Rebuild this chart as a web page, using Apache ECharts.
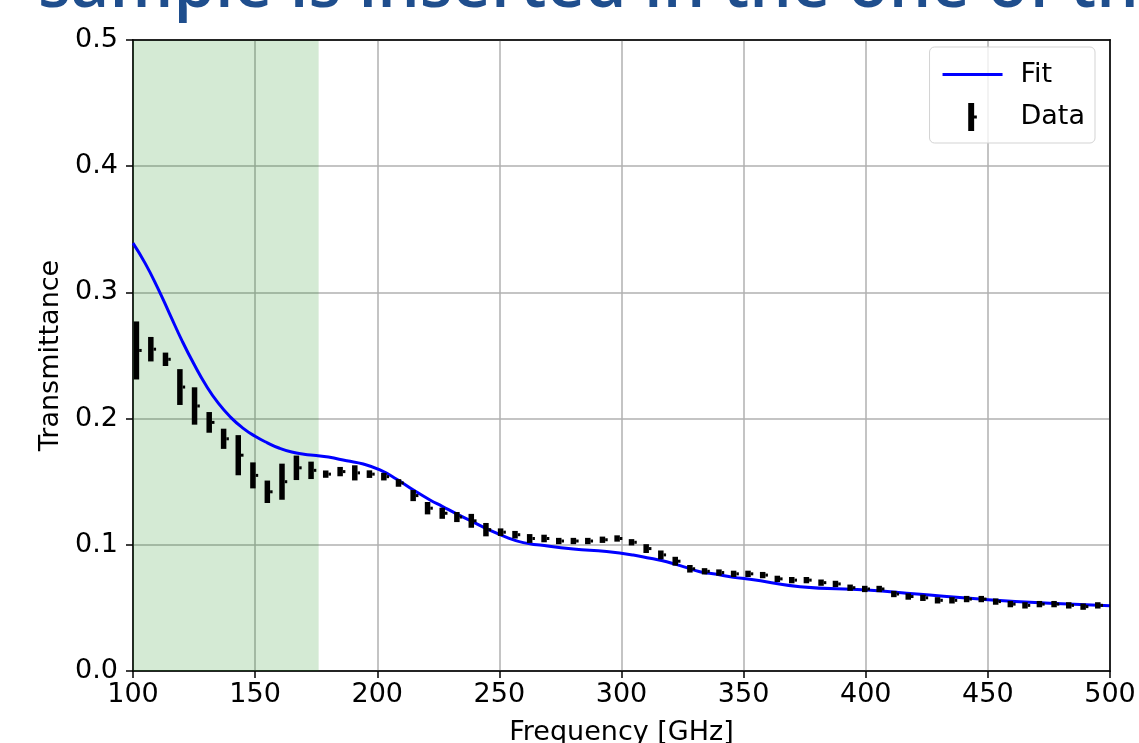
<!DOCTYPE html>
<html>
<head>
<meta charset="utf-8">
<script src="https://cdn.jsdelivr.net/npm/echarts@6/dist/echarts.min.js"></script>
<style>
  html, body { margin: 0; padding: 0; background: #ffffff; }
  #chart { width: 1139px; height: 743px; }
</style>
</head>
<body>
<div id="chart"></div>
<script>
// Measured transmittance with half-length of the error bar
const freqGHz = [
  101.4, 107.3, 113.3, 119.2, 125.2, 131.2, 137.1, 143.1, 149.1, 155.0,
  161.0, 166.9, 172.9, 178.9, 184.8, 190.8, 196.8, 202.7, 208.7, 214.7,
  220.6, 226.6, 232.6, 238.5, 244.5, 250.5, 256.4, 262.4, 268.3, 274.3,
  280.3, 286.2, 292.2, 298.2, 304.1, 310.1, 316.1, 322.0, 328.0, 334.0,
  339.9, 345.9, 351.8, 357.8, 363.8, 369.7, 375.7, 381.7, 387.6, 393.6,
  399.6, 405.5, 411.5, 417.4, 423.4, 429.4, 435.3, 441.3, 447.3, 453.2,
  459.2, 465.2, 471.1, 477.1, 483.1, 489.0, 495.0
];
const transmittance = [
  0.254, 0.255, 0.247, 0.225, 0.210, 0.197, 0.184, 0.171, 0.155, 0.142,
  0.150, 0.161, 0.159, 0.156, 0.158, 0.157, 0.156, 0.154, 0.149, 0.139,
  0.129, 0.125, 0.122, 0.119, 0.112, 0.110, 0.108, 0.105, 0.105, 0.103,
  0.103, 0.103, 0.104, 0.105, 0.102, 0.097, 0.092, 0.087, 0.081, 0.079,
  0.078, 0.077, 0.077, 0.076, 0.073, 0.072, 0.072, 0.070, 0.069, 0.066,
  0.065, 0.065, 0.061, 0.059, 0.058, 0.056, 0.056, 0.057, 0.057, 0.055,
  0.053, 0.052, 0.053, 0.053, 0.052, 0.051, 0.052
];
const errHalf = [
  0.0230, 0.0097, 0.0053, 0.0142, 0.0148, 0.0082, 0.0080, 0.0159, 0.0103, 0.0089,
  0.0143, 0.0097, 0.0069, 0.0029, 0.0037, 0.0060, 0.0030, 0.0030, 0.0030, 0.0044,
  0.0049, 0.0044, 0.0040, 0.0055, 0.0053, 0.0030, 0.0030, 0.0035, 0.0030, 0.0025,
  0.0025, 0.0025, 0.0025, 0.0025, 0.0025, 0.0035, 0.0035, 0.0035, 0.0030, 0.0025,
  0.0025, 0.0025, 0.0025, 0.0025, 0.0025, 0.0025, 0.0025, 0.0025, 0.0025, 0.0025,
  0.0025, 0.0025, 0.0025, 0.0025, 0.0025, 0.0025, 0.0025, 0.0025, 0.0025, 0.0025,
  0.0025, 0.0025, 0.0025, 0.0025, 0.0025, 0.0025, 0.0025
];

// Model fit curve
const fitFreq = [
  100, 105, 110, 115, 120, 125, 130, 135, 140, 145,
  150, 155, 160, 165, 170, 175, 180, 187.5, 194.3, 201.1,
  208.0, 214.8, 221.6, 226.6, 232.5, 239.3, 246.2, 253.0, 259.8, 266.6,
  280.3, 293.9, 304.8, 311.7, 318.5, 325.3, 332.1, 339.0, 345.8, 352.6,
  373.1, 400.4, 420.9, 448.1, 475.4, 500
];
const fitValue = [
  0.339, 0.323, 0.304, 0.283, 0.262, 0.243, 0.226, 0.212, 0.201, 0.1925,
  0.1860, 0.1808, 0.1765, 0.1735, 0.1718, 0.1708, 0.1695, 0.1666, 0.1640, 0.1593,
  0.1519, 0.1434, 0.1355, 0.1305, 0.1245, 0.1180, 0.1115, 0.1059, 0.1017, 0.0998,
  0.0967, 0.0946, 0.0919, 0.0893, 0.0866, 0.0827, 0.0787, 0.0766, 0.0742, 0.0727,
  0.0668, 0.0642, 0.0610, 0.0568, 0.0536, 0.0517
];

// Highlighted frequency band
const bandGHz = [100, 176];

const headingText = 'sample is inserted in the one of the';

const AXIS_FONT = '"DejaVu Sans", sans-serif';
const FS = 27;

const chart = echarts.init(document.getElementById('chart'), null, { renderer: 'canvas' });

const pointData = freqGHz.map((f, i) => [f, transmittance[i], errHalf[i]]);
const fitData = fitFreq.map((f, i) => [f, fitValue[i]]);

function renderErrorBar(params, api) {
  const x = api.value(0), y = api.value(1), e = api.value(2);
  const c = api.coord([x, y]);
  const top = api.coord([x, y + e]);
  const bot = api.coord([x, y - e]);
  let y0 = top[1];
  let h = bot[1] - top[1];
  const minH = 5.5;
  if (h < minH) { y0 = c[1] - minH / 2; h = minH; }
  return {
    type: 'group',
    children: [
      { type: 'rect', shape: { x: c[0] - 2.75, y: y0, width: 5.5, height: h }, style: { fill: '#000' } },
      { type: 'rect', shape: { x: c[0] + 2.75, y: c[1] - 1.5, width: 2.5, height: 3 }, style: { fill: '#000' } }
    ]
  };
}

// Plain black frame along the top and right edges of the plot
const frameAxis = {
  show: true, type: 'value',
  axisLine: { show: true, onZero: false, lineStyle: { color: '#000', width: 1.5 } },
  axisTick: { show: false }, axisLabel: { show: false }, splitLine: { show: false },
  z: 5
};

const option = {
  animation: false,
  backgroundColor: '#ffffff',
  grid: {
    left: 133, right: 29, top: 40, bottom: 72,
    outerBoundsMode: 'none', containLabel: false,
    show: true, borderColor: '#000', borderWidth: 1.5, backgroundColor: 'transparent'
  },
  graphic: [
    {
      type: 'text', left: 38, top: -46, z: 10,
      style: { text: headingText, font: '600 67px "Open Sans", sans-serif', fill: '#1F4E8D' }
    }
  ],
  legend: {
    orient: 'vertical', right: 44, top: 47,
    itemWidth: 60, itemHeight: 28, itemGap: 15,
    padding: [14, 10, 12, 13],
    backgroundColor: 'rgba(255,255,255,0.8)',
    borderColor: '#d3d3d3', borderWidth: 1, borderRadius: 5,
    textStyle: { fontFamily: AXIS_FONT, fontSize: FS, color: '#000', padding: [0, 0, 0, 13] },
    data: [
      { name: 'Fit', icon: 'path://M0,0 h60 v3 h-60 z' },
      { name: 'Data', icon: 'path://M0,0 h5.5 v26 h-5.5 z M5.5,11.5 h2.5 v3 h-2.5 z' }
    ]
  },
  xAxis: [
    {
      type: 'value', min: 100, max: 500, interval: 50,
      name: 'Frequency [GHz]', nameLocation: 'middle', nameGap: 48,
      nameTextStyle: { fontFamily: AXIS_FONT, fontSize: FS, color: '#000' },
      axisLine: { show: true, onZero: false, lineStyle: { color: '#000', width: 1.5 } },
      axisTick: { show: true, inside: false, length: 7, lineStyle: { color: '#000', width: 1.5 } },
      axisLabel: { fontFamily: AXIS_FONT, fontSize: FS, color: '#000', margin: 10 },
      splitLine: { show: true, lineStyle: { color: '#b0b0b0', width: 1.5 } }
    },
    Object.assign({ position: 'top', min: 100, max: 500 }, frameAxis)
  ],
  yAxis: [
    {
      type: 'value', min: 0, max: 0.5, interval: 0.1,
      name: 'Transmittance', nameLocation: 'middle', nameGap: 69,
      nameTextStyle: { fontFamily: AXIS_FONT, fontSize: FS, color: '#000' },
      axisLine: { show: true, onZero: false, lineStyle: { color: '#000', width: 1.5 } },
      axisTick: { show: true, inside: false, length: 7, lineStyle: { color: '#000', width: 1.5 } },
      axisLabel: { fontFamily: AXIS_FONT, fontSize: FS, color: '#000', margin: 15,
        formatter: v => v.toFixed(1) },
      splitLine: { show: true, lineStyle: { color: '#b0b0b0', width: 1.5 } }
    },
    Object.assign({ position: 'right', min: 0, max: 0.5 }, frameAxis)
  ],
  series: [
    {
      name: 'Fit', type: 'line', data: fitData, showSymbol: false, symbol: 'none',
      smooth: 0.5, z: 3,
      lineStyle: { color: '#0000ff', width: 3 },
      itemStyle: { color: '#0000ff' },
      markArea: {
        silent: true,
        itemStyle: { color: 'rgba(0,128,0,0.17)' },
        data: [[{ xAxis: bandGHz[0] }, { xAxis: bandGHz[1] }]]
      }
    },
    {
      name: 'Data', type: 'custom', data: pointData, clip: true, z: 4,
      itemStyle: { color: '#000' },
      renderItem: renderErrorBar
    }
  ]
};

chart.setOption(option);
</script>
</body>
</html>
